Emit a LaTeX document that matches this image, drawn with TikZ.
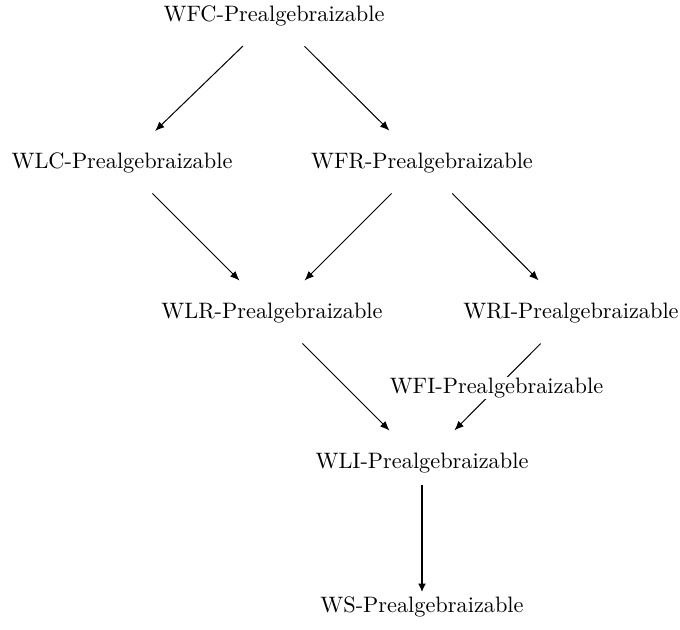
\documentclass[tikz,border=0pt]{standalone}
\usetikzlibrary{arrows.meta}
\begin{document}
\begin{tikzpicture}[x=0.448pt,y=-0.448pt,
  lbl/.style={inner sep=0pt,outer sep=0pt,font=\fontsize{10}{12}\selectfont},
  arr/.style={-{Latex[length=4.2pt,width=3.4pt]},line width=0.45pt,
    shorten <=19.3pt,shorten >=20.6pt},
  thickarr/.style={-{Latex[length=3.8pt,width=3.6pt]},line width=1.3pt,
    shorten <=9.9pt,shorten >=6.7pt},
  edgelbl/.style={fill=white,inner sep=0.3pt,font=\fontsize{10}{12}\selectfont}]
  \useasboundingbox (0,0) rectangle (680,629);
  % implication lattice of prealgebraizability notions
  \node[lbl] (wfc) at (274,16) {WFC-Prealgebraizable};
  \node[lbl] (wlc) at (122,163) {WLC-Prealgebraizable};
  \node[lbl] (wfr) at (422,163) {WFR-Prealgebraizable};
  \node[lbl] (wlr) at (272,313) {WLR-Prealgebraizable};
  \node[lbl] (wri) at (571,313) {WRI-Prealgebraizable};
  \node[lbl] (wli) at (422,463) {WLI-Prealgebraizable};
  \node[lbl] (ws)  at (422,607) {WS-Prealgebraizable};
  % implications
  \draw[arr] (wfc.center) -- (wlc.center);
  \draw[arr] (wfc.center) -- (wfr.center);
  \draw[arr] (wlc.center) -- (wlr.center);
  \draw[arr] (wfr.center) -- (wlr.center);
  \draw[arr] (wfr.center) -- (wri.center);
  \draw[arr] (wlr.center) -- (wli.center);
  \draw[arr] (wri.center) -- node[edgelbl] (wfi) {WFI-Prealgebraizable} (wli.center);
  \draw[thickarr] (wli.center) -- (ws.center);
\end{tikzpicture}
\end{document}
